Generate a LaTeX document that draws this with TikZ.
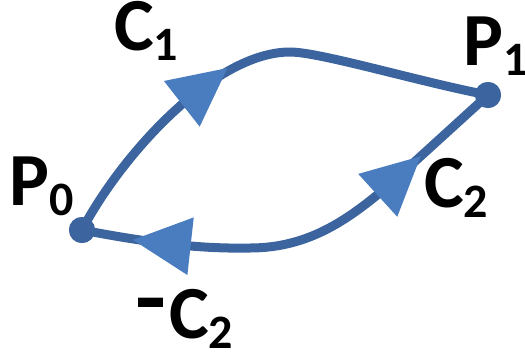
\documentclass[tikz,border=0pt]{standalone}
\usepackage{fontspec}
\setmainfont{Carlito}
\usetikzlibrary{shapes.geometric}
\definecolor{linecol}{RGB}{60,100,158}
\definecolor{tricol}{RGB}{74,125,192}
\newcommand\mylbl[2]{{\fontsize{75}{75}\selectfont #1}\raisebox{-10pt}{\fontsize{48}{48}\selectfont #2}}
\tikzset{
  curve/.style={draw=linecol, line width=9pt, line cap=round, line join=round},
  dotnode/.style={circle, fill=linecol, minimum size=26pt, inner sep=0pt},
  tri/.style={isosceles triangle, isosceles triangle stretches, fill=tricol, draw=none,
    minimum width=58pt, minimum height=58pt, inner sep=0pt, sloped, allow upside down, anchor=center},
  lbl/.style={anchor=base west, inner sep=0pt, font=\bfseries}
}
\begin{document}
\begin{tikzpicture}[x=1pt,y=-1pt]
\useasboundingbox (0,0) rectangle (525,354);
\coordinate (T) at (290,52);
\coordinate (B) at (250,248);
\coordinate (Q) at (388,186);
\node[dotnode] (P0) at (82,230) {};
\node[dotnode] (P1) at (488,95) {};
\draw[curve] (P0.center) .. controls (122,154) and (215,52) .. (T) node[tri, pos=0.6] (a1) {}
  .. controls (320,52) and (420,82) .. (P1.center);
\draw[curve] (P0.center) .. controls (150,243) and (200,249) .. (B) node[tri, pos=0.5, shape border rotate=180] (a2) {}
  .. controls (310,248) and (350,218) .. (Q) -- (P1.center) node[tri, pos=0.03] (a3) {};
\node[dotnode] at (P0) {};
\node[dotnode] at (P1) {};
\node[lbl] (lC1) at (114,50) {\mylbl{C}{1}};
\node[lbl] (lP1) at (463,65) {\mylbl{P}{1}};
\node[lbl] (lP0) at (9,205) {\mylbl{P}{0}};
\node[lbl] (lC2) at (424,207) {\mylbl{C}{2}};
\node[lbl] (lmC2) at (135,338) {{\fontsize{75}{75}\selectfont\raisebox{10pt}{\scalebox{1.35}[1.2]{-}}}\kern3pt\mylbl{C}{2}};
\end{tikzpicture}
\end{document}
